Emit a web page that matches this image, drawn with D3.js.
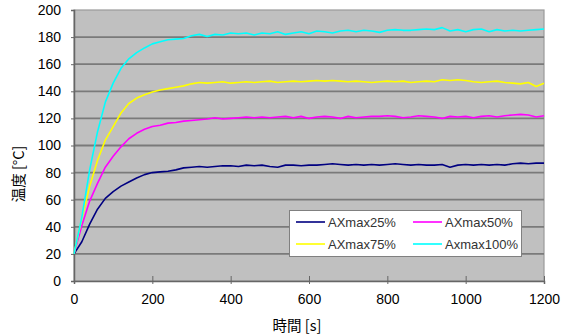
<!DOCTYPE html>
<html>
<head>
<meta charset="utf-8">
<script src="https://cdn.jsdelivr.net/npm/d3@7"></script>
<style>
  html, body { margin: 0; padding: 0; background: #ffffff; }
  svg { display: block; }
  .num { font-family: "Liberation Sans", Arial, sans-serif; font-size: 14px; fill: #000; }
  .jp { font-family: "Noto Sans CJK JP", sans-serif; font-size: 14.5px; fill: #000; }
  .leg { font-family: "Liberation Sans", Arial, sans-serif; font-size: 13px; fill: #333; }
</style>
</head>
<body>
<svg id="chart" width="569" height="336"></svg>
<script>
// Elapsed time [s]
const times = [0,20,40,60,80,100,120,140,160,180,200,220,240,260,280,300,320,340,360,380,400,
  420,440,460,480,500,520,540,560,580,600,620,640,660,680,700,720,740,760,780,800,
  820,840,860,880,900,920,940,960,980,1000,1020,1040,1060,1080,1100,1120,1140,1160,1180,1200];

// Temperature [°C] for each output level
const ax25 = [20,29,42,53,61,66,70,73,76,78.5,80,80.5,81,82,83.5,84,84.5,84,84.5,85,85,
  84.5,85.5,85,85.5,84.5,84,85.5,85.5,85,85.5,85.5,86,86.5,86,85.5,86,85.5,86,85.5,86,
  86.5,86,85.5,86,85.5,85.5,86,84,85.5,86,85.5,86,85.5,86,85.5,86.5,87,86.5,87,87];
const ax50 = [20,41,59,72,84,92,99,105,109,112,114,115,116.5,117,118,118.5,119,119.5,120.5,119.5,120,
  120.5,121,120.5,121,120.5,121,121.5,120.5,121.5,120,121,121.5,121,120,121.5,120.5,121,121.5,121.5,122,
  121.5,120.5,121,122,121.5,121,120,121.5,121,121.5,120.5,121.5,122,121,122,122.5,123,122.5,121,122];
const ax75 = [20,46,70,89,104,114,124,131,135,137.5,139.5,141,142,143,144,145.5,146.5,146,146.5,147,146,
  146.5,147,146.5,147,147.5,146.5,147,147.5,147,147.5,148,147.5,148,147.5,147,147.5,147,146.5,147,147.5,
  147,147.5,146.5,147,147.5,147,148.5,148,148.5,148,147,146.5,147,147.5,146.5,146,145.5,146.5,143.5,146];
const ax100 = [20,47,82,110,132,146,157,164,168.5,172,175,176.5,178,178.5,179,181,182,180.5,182,181.5,183,
  182.5,183,181.5,183,182.5,184,182,183,184,182.5,184.5,184,183,184.5,185,184,185,184.5,183.5,185,
  185.5,185,185,185.5,186,185.5,187,184.5,185.5,184,185.5,186,184,185.5,184.5,185,184.5,185,185.5,186];

const seriesNames = ["AXmax25%", "AXmax50%", "AXmax75%", "Axmax100%"];
const seriesColors = ["#000080", "#ff00ff", "#ffff00", "#00ffff"];
const seriesValues = [ax25, ax50, ax75, ax100];

const xTicks = [0,200,400,600,800,1000,1200];
const yTicks = [0,20,40,60,80,100,120,140,160,180,200];

const svg = d3.select("#chart");
const plot = { left: 74, right: 544, top: 10, bottom: 281 };

const x = d3.scaleLinear().domain([0, 1200]).range([plot.left, plot.right]);
const y = d3.scaleLinear().domain([0, 200]).range([plot.bottom, plot.top]);

// plot background
svg.append("rect")
  .attr("x", plot.left).attr("y", plot.top)
  .attr("width", plot.right - plot.left).attr("height", plot.bottom - plot.top)
  .attr("fill", "#c0c0c0").attr("stroke", "#9a9a9a").attr("stroke-width", 1.2);

// horizontal gridlines
svg.append("g").selectAll("line")
  .data(yTicks.filter(v => v > 0 && v < 200))
  .join("line")
  .attr("x1", plot.left).attr("x2", plot.right)
  .attr("y1", d => y(d)).attr("y2", d => y(d))
  .attr("stroke", "#7a7a7a").attr("stroke-width", 1.8);

// y axis
const yAxis = svg.append("g")
  .attr("transform", `translate(${plot.left},0)`)
  .call(d3.axisLeft(y).tickValues(yTicks).tickFormat(d3.format("d")).tickSize(3).tickPadding(10));
yAxis.select(".domain").attr("stroke", "#666").attr("stroke-width", 1.5);
yAxis.selectAll(".tick line").attr("stroke", "#666");
yAxis.selectAll("text").attr("class", "num").attr("fill", "#000");

// x axis
const xAxis = svg.append("g")
  .attr("transform", `translate(0,${plot.bottom})`)
  .call(d3.axisBottom(x).tickValues(xTicks).tickFormat(d3.format("d")).tickSize(3).tickPadding(10));
xAxis.select(".domain").attr("stroke", "#666").attr("stroke-width", 1.5);
xAxis.selectAll(".tick line").attr("stroke", "#666").attr("y1", -5);
xAxis.selectAll("text").attr("class", "num").attr("fill", "#000");

// axis titles
svg.append("text").attr("class", "jp")
  .attr("x", 297).attr("y", 331).attr("text-anchor", "middle")
  .text("時間 [s]");
svg.append("text").attr("class", "jp")
  .attr("transform", "translate(24,174) rotate(-90)")
  .attr("text-anchor", "middle")
  .text("温度 [°C]");

// temperature curves
const line = d3.line()
  .x((d, i) => x(times[i]))
  .y(d => y(d));

svg.append("g").selectAll("path")
  .data(seriesValues)
  .join("path")
  .attr("d", d => line(d))
  .attr("fill", "none")
  .attr("stroke", (d, i) => seriesColors[i])
  .attr("stroke-width", 1.6)
  .attr("stroke-linejoin", "round");

// legend
const legend = svg.append("g");
legend.append("rect")
  .attr("x", 289.5).attr("y", 210.5).attr("width", 232).attr("height", 46)
  .attr("fill", "#ffffff").attr("stroke", "#808080").attr("stroke-width", 1);

const legendPos = [
  { lx: 296, ty: 222 }, { lx: 413, ty: 222 },
  { lx: 296, ty: 244 }, { lx: 413, ty: 244 }
];
seriesNames.forEach((name, i) => {
  const p = legendPos[i];
  legend.append("line")
    .attr("x1", p.lx).attr("x2", p.lx + 29)
    .attr("y1", p.ty).attr("y2", p.ty)
    .attr("stroke", seriesColors[i]).attr("stroke-width", 1.6);
  legend.append("text").attr("class", "leg")
    .attr("x", p.lx + 32).attr("y", p.ty).attr("dy", "0.36em")
    .text(name);
});
</script>
</body>
</html>
